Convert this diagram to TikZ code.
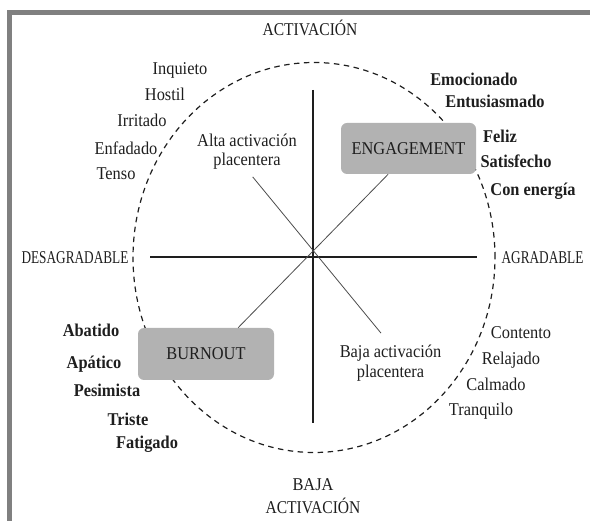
\documentclass[tikz,border=0pt]{standalone}
\usepackage{fontspec}
\setmainfont{Liberation Serif}[FakeStretch=0.91]
\usetikzlibrary{calc}
\definecolor{framegray}{RGB}{128,128,128}
\definecolor{boxgray}{RGB}{178,178,178}
\definecolor{txt}{RGB}{30,30,30}
\begin{document}
\begin{tikzpicture}[x=1pt,y=-1pt,
  lbl/.style={inner sep=0pt, anchor=base, text=txt, font=\fontsize{18}{20}\selectfont},
  blbl/.style={inner sep=0pt, anchor=base, text=txt, font=\fontsize{18}{20}\selectfont\bfseries},
  twoline/.style={inner sep=0pt, anchor=north, align=center, text=txt, font=\fontsize{18}{19.5}\selectfont},
  quadbox/.style={fill=boxgray, rounded corners=6pt, inner sep=0pt, minimum width=135pt, minimum height=51pt, text=txt, font=\fontsize{18}{20}\selectfont},
  axisline/.style={line width=1.3pt, txt},
  diagline/.style={line width=0.8pt, black!70},
  ring/.style={line width=1.2pt, txt, dash pattern=on 5.5pt off 4.5pt}]
\useasboundingbox (0,0) rectangle (590,521);
% frame
\draw[line width=4.5pt, framegray, line join=miter] (9.5,521) -- (9.5,12.5) -- (590,12.5);
% dashed ring
\draw[ring] (314,257.5) ellipse [x radius=181pt, y radius=195pt];
% axes
\coordinate (hl) at (150,257);
\coordinate (hr) at (477,257);
\coordinate (vt) at (313,90);
\coordinate (vb) at (313,423);
\draw[axisline] (hl) -- (hr);
\draw[axisline] (vt) -- (vb);
% boxes
\node[quadbox] (eng) at (408.5,148.5) {ENGAGEMENT};
\node[quadbox, minimum width=136pt, minimum height=52pt] (burn) at (206,354) {BURNOUT};
% quadrant labels
\node[twoline] (alta) at (247,133.7) {Alta activación\\placentera};
\node[twoline, font=\fontsize{18}{20}\selectfont] (baja) at (390.5,344.7) {Baja activación\\placentera};
% diagonals
\draw[diagline] ($(burn.north west)!0.735!(burn.north east)$) -- ($(eng.south west)!0.35!(eng.south east)$);
\draw[diagline, shorten <=9pt, shorten >=15pt] (alta.south) -- (baja.north);
% axis labels
\node[lbl] (acttop) at (310,36) {\scalebox{0.95}[1]{ACTIVACIÓN}};
\node[twoline, font=\fontsize{18}{23}\selectfont] (actbot) at (313,478) {BAJA\\\scalebox{0.95}[1]{ACTIVACIÓN}};
\node[lbl] (desag) at (75,264) {\scalebox{0.81}[1]{DESAGRADABLE}};
\node[lbl] (agrad) at (542.5,264) {\scalebox{0.81}[1]{AGRADABLE}};
% upper left (regular)
\node[lbl] (w1) at (180,75) {Inquieto};
\node[lbl] (w2) at (165,101) {Hostil};
\node[lbl] (w3) at (142,127) {Irritado};
\node[lbl] (w4) at (126,155) {Enfadado};
\node[lbl] (w5) at (116,180) {Tenso};
% upper right (bold)
\node[blbl] (e1) at (474,86) {Emocionado};
\node[blbl] (e2) at (495,108) {Entusiasmado};
\node[blbl] (e3) at (500,143) {Feliz};
\node[blbl] (e4) at (516,168) {Satisfecho};
\node[blbl] (e5) at (533,196) {Con energía};
% lower left (bold)
\node[blbl] (b1) at (91,337) {Abatido};
\node[blbl] (b2) at (94,369) {Apático};
\node[blbl] (b3) at (107,397) {Pesimista};
\node[blbl] (b4) at (128,426) {Triste};
\node[blbl] (b5) at (147,449) {Fatigado};
% lower right (regular)
\node[lbl] (c1) at (521,339) {Contento};
\node[lbl] (c2) at (511,365) {Relajado};
\node[lbl] (c3) at (496,391) {Calmado};
\node[lbl] (c4) at (481,416) {Tranquilo};
\end{tikzpicture}
\end{document}
